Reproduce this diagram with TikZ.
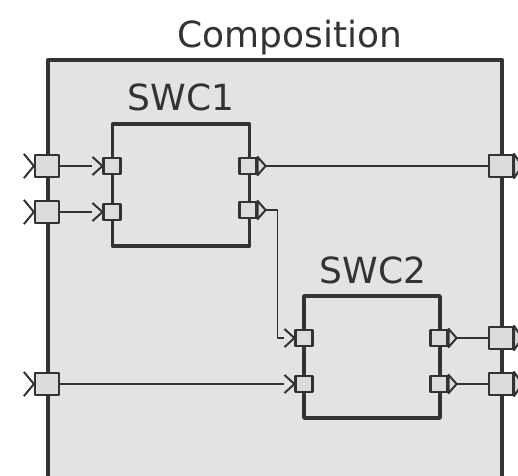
\documentclass[tikz,border=0pt]{standalone}
\usepackage{fontspec}
\setmainfont{DejaVu Sans}
\usetikzlibrary{positioning}

\definecolor{compgray}{HTML}{E3E3E3}
\definecolor{portgray}{HTML}{DCDCDC}
\definecolor{edgegray}{HTML}{333333}

% receiver chevron left of a port, sender wedge right of a port
\newcommand{\inchevron}[1]{%
  \draw[chevron] ([xshift=-10pt]#1.north west) -- (#1.west) -- ([xshift=-10pt]#1.south west);}
\newcommand{\outwedge}[1]{%
  \draw[wedge] (#1.north east) -- ([xshift=8pt]#1.east) coordinate (#1-tip) -- (#1.south east) -- cycle;}

\tikzset{
  comp/.style={draw=edgegray, fill=compgray, line width=4pt},
  swc/.style={draw=edgegray, fill=compgray, line width=3.5pt, inner sep=0pt},
  cport/.style={draw=edgegray, fill=portgray, line width=2.2pt, inner sep=0pt,
    minimum width=24pt, minimum height=22pt},
  sport/.style={draw=edgegray, fill=portgray, line width=2.2pt, inner sep=0pt,
    minimum width=17pt, minimum height=16pt},
  chevron/.style={draw=edgegray, line width=2pt},
  wedge/.style={draw=edgegray, fill=portgray, line width=2pt, line join=round},
  conn/.style={draw=edgegray, line width=1.7pt},
  title/.style={anchor=base, text=edgegray, font=\fontsize{36}{40}\selectfont}
}

\begin{document}
\begin{tikzpicture}[x=1pt, y=-1pt, line join=round]
  \useasboundingbox (0,0) rectangle (518,475);
  \clip (0,0) rectangle (518,475);

  % Composition frame, runs off the bottom edge
  \draw[comp] (48,60) rectangle (502,520);
  \node[title] (comptitle) at (290,47) {Composition};

  % Components
  \node[swc, minimum width=137pt, minimum height=122pt] (swc1) at (181,185) {};
  \node[swc, minimum width=136pt, minimum height=122pt] (swc2) at (372,357) {};
  \node[title] (swc1title) at (181,110) {SWC1};
  \node[title] (swc2title) at (373,283) {SWC2};

  % Composition ports
  \node[cport] (cin1) at (47,166) {};
  \node[cport] (cin2) at (47,212) {};
  \node[cport] (cin3) at (47,384) {};
  \node[cport] (cout1) at (501,166) {};
  \node[cport] (cout2) at (501,338) {};
  \node[cport] (cout3) at (501,384) {};

  % Component ports
  \node[sport] (s1in1) at (112,166) {};
  \node[sport] (s1in2) at (112,212) {};
  \node[sport] (s1out1) at (248,166) {};
  \node[sport] (s1out2) at (248,210) {};
  \node[sport] (s2in1) at (304,338) {};
  \node[sport] (s2in2) at (304,384) {};
  \node[sport] (s2out1) at (439,338) {};
  \node[sport] (s2out2) at (439,384) {};

  \foreach \p in {cin1,cin2,cin3,s1in1,s1in2,s2in1,s2in2} {\inchevron{\p}}
  \foreach \p in {cout1,cout2,cout3,s1out1,s1out2,s2out1,s2out2} {\outwedge{\p}}

  % Connectors
  \draw[conn] (cin1.east) -- ([xshift=-10pt]s1in1.west);
  \draw[conn] (cin2.east) -- ([xshift=-10pt]s1in2.west);
  \draw[conn] (cin3.east) -- ([xshift=-10pt]s2in2.west);
  \draw[conn] (s1out1-tip) -- (cout1.west);
  \draw[conn] (s1out2-tip) -- ++(12,0) |- ([xshift=-10pt]s2in1.west);
  \draw[conn] (s2out1-tip) -- (cout2.west);
  \draw[conn] (s2out2-tip) -- (cout3.west);
\end{tikzpicture}
\end{document}
